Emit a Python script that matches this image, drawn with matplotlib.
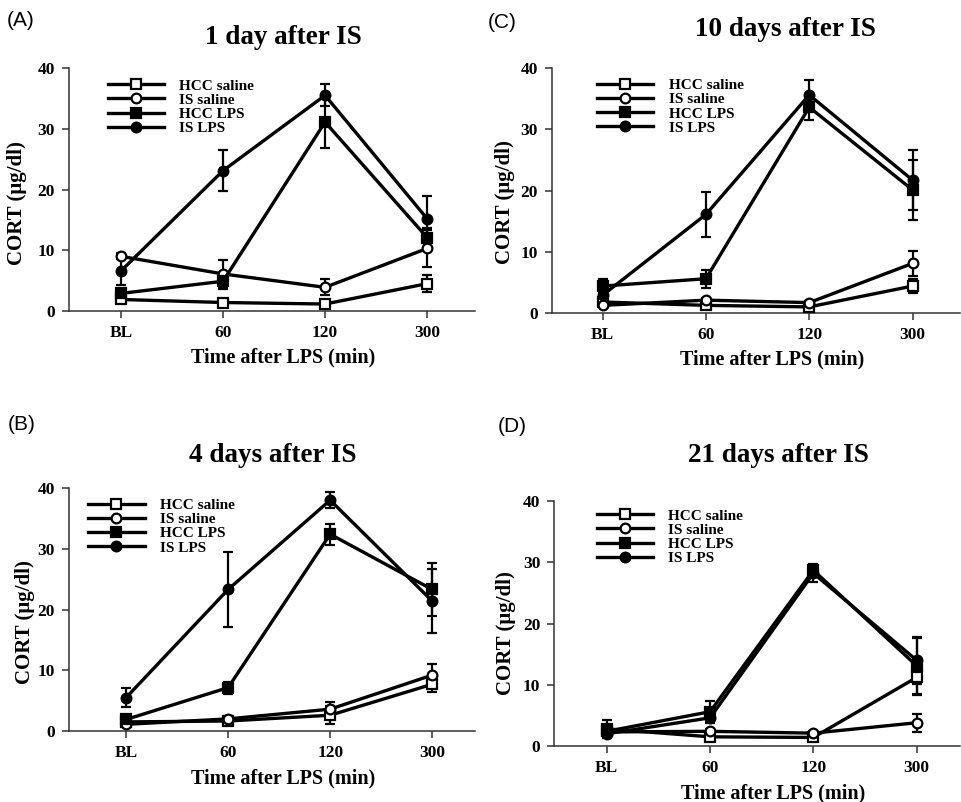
import matplotlib
matplotlib.use('Agg')
import matplotlib.pyplot as plt
import numpy as np

# Categorias do eixo x
time_labels = ['BL', '60', '120', '300']
group_names = ['HCC saline', 'IS saline', 'HCC LPS', 'IS LPS']

# CORT (ug/dl) por grupo, em cada painel
a_hcc_sal = [1.9, 1.4, 1.15, 4.5]
a_is_sal = [9.0, 6.1, 3.9, 10.3]
a_hcc_lps = [2.9, 4.9, 31.1, 12.1]
a_is_lps = [6.6, 23.1, 35.5, 15.2]
a_hcc_sal_err = [0.4, 0.3, 0.3, 1.4]
a_is_sal_err = [0.5, 2.3, 1.3, 3.0]
a_hcc_lps_err = [0.6, 1.3, 4.2, 1.5]
a_is_lps_err = [2.3, 3.4, 1.8, 3.8]

b_hcc_sal = [1.5, 1.65, 2.6, 7.7]
b_is_sal = [1.1, 2.0, 3.6, 9.2]
b_hcc_lps = [1.9, 7.15, 32.4, 23.3]
b_is_lps = [5.5, 23.3, 38.0, 21.4]
b_hcc_sal_err = [0.4, 0.3, 1.5, 1.2]
b_is_sal_err = [0.3, 0.4, 1.2, 1.9]
b_hcc_lps_err = [0.4, 1.0, 1.7, 4.3]
b_is_lps_err = [1.5, 6.2, 1.3, 5.2]

c_hcc_sal = [1.8, 1.25, 1.0, 4.4]
c_is_sal = [1.25, 2.1, 1.7, 8.1]
c_hcc_lps = [4.4, 5.6, 33.6, 20.1]
c_is_lps = [2.9, 16.1, 35.6, 21.7]
c_hcc_sal_err = [0.4, 0.3, 0.3, 1.2]
c_is_sal_err = [0.3, 0.4, 0.3, 2.0]
c_hcc_lps_err = [1.2, 1.5, 2.1, 4.9]
c_is_lps_err = [0.6, 3.7, 2.4, 4.9]

d_hcc_sal = [2.8, 1.5, 1.4, 11.2]
d_is_sal = [2.3, 2.4, 2.1, 3.8]
d_hcc_lps = [2.4, 5.6, 28.7, 13.1]
d_is_lps = [2.0, 4.6, 28.2, 14.0]
d_hcc_sal_err = [1.5, 0.4, 0.3, 2.9]
d_is_sal_err = [0.4, 0.4, 0.3, 1.5]
d_hcc_lps_err = [0.6, 1.7, 1.0, 4.6]
d_is_lps_err = [0.5, 0.8, 1.4, 3.8]

serif = 'Liberation Serif'
sans = 'Liberation Sans'

fig = plt.figure(figsize=(9.62, 8.02), dpi=100)

# posicao do eixo, xlim, legenda, titulo, rotulo do painel, coords dos rotulos dos eixos
panels = [
    dict(rect=[0.0717, 0.6122, 0.4221, 0.3030], xlim=(-0.51, 3.47), leg=(0.095, 0.955),
         title='1 day after IS', tpos=(283, 37), tag='(A)', tagpos=(21, 21),
         xl=(0.527, -0.150), yl=(-0.103, 0.444),
         data=(a_hcc_sal, a_is_sal, a_hcc_lps, a_is_lps),
         err=(a_hcc_sal_err, a_is_sal_err, a_hcc_lps_err, a_is_lps_err)),
    dict(rect=[0.5738, 0.6097, 0.4242, 0.3055], xlim=(-0.49, 3.46), leg=(0.11, 0.957),
         title='10 days after IS', tpos=(785, 29), tag='(C)', tagpos=(502, 22),
         xl=(0.54, -0.147), yl=(-0.091, 0.451),
         data=(c_hcc_sal, c_is_sal, c_hcc_lps, c_is_lps),
         err=(c_hcc_sal_err, c_is_sal_err, c_hcc_lps_err, c_is_lps_err)),
    dict(rect=[0.0717, 0.0885, 0.4221, 0.3030], xlim=(-0.56, 3.42), leg=(0.047, 0.957),
         title='4 days after IS', tpos=(273, 455), tag='(B)', tagpos=(22, 425),
         xl=(0.527, -0.156), yl=(-0.084, 0.45),
         data=(b_hcc_sal, b_is_sal, b_hcc_lps, b_is_lps),
         err=(b_hcc_sal_err, b_is_sal_err, b_hcc_lps_err, b_is_lps_err)),
    dict(rect=[0.5759, 0.0698, 0.4221, 0.3055], xlim=(-0.51, 3.42), leg=(0.105, 0.968),
         title='21 days after IS', tpos=(778, 455), tag='(D)', tagpos=(512, 426),
         xl=(0.539, -0.151), yl=(-0.094, 0.461),
         data=(d_hcc_sal, d_is_sal, d_hcc_lps, d_is_lps),
         err=(d_hcc_sal_err, d_is_sal_err, d_hcc_lps_err, d_is_lps_err)),
]

markers = ['s', 'o', 's', 'o']
faces = ['white', 'white', 'black', 'black']
x = np.arange(len(time_labels))

for p in panels:
    ax = fig.add_axes(p['rect'])
    handles = []
    for vals, errs, mk, fc, name in zip(p['data'], p['err'], markers, faces, group_names):
        ax.errorbar(x, vals, yerr=errs, fmt='none', ecolor='black', elinewidth=1.6,
                    capsize=3.5, capthick=1.6, zorder=2)
        h, = ax.plot(x, vals, color='black', lw=2.4, marker=mk, markersize=7,
                     markerfacecolor=fc, markeredgecolor='black', markeredgewidth=1.6,
                     label=name, zorder=3)
        handles.append(h)

    ax.set_xlim(*p['xlim'])
    ax.set_ylim(0, 40)
    ax.set_yticks([0, 10, 20, 30, 40])
    ax.set_xticks(x)
    ax.set_xticklabels(time_labels)
    for s in ['top', 'right']:
        ax.spines[s].set_visible(False)
    for s in ['left', 'bottom']:
        ax.spines[s].set_color('#333333')
        ax.spines[s].set_linewidth(1.1)
    ax.tick_params(axis='both', direction='out', length=5, width=1.1, color='#333333', pad=5)
    for lab in ax.get_xticklabels() + ax.get_yticklabels():
        lab.set_fontfamily(serif)
        lab.set_fontweight('bold')
        lab.set_fontsize(12.5)

    ax.set_xlabel('Time after LPS (min)', fontfamily=serif, fontweight='bold', fontsize=14.5)
    ax.xaxis.set_label_coords(*p['xl'])
    ax.set_ylabel('CORT (\u03bcg/dl)', fontfamily=serif, fontweight='bold', fontsize=15)
    ax.yaxis.set_label_coords(*p['yl'])

    ax.legend(handles=handles, loc='upper left', bbox_to_anchor=p['leg'], frameon=False,
              prop={'family': serif, 'weight': 'bold', 'size': 11}, handlelength=3.7,
              handletextpad=1.0, labelspacing=0.03, borderpad=0, borderaxespad=0,
              numpoints=1)

    fig.text(p['tpos'][0] / 962, 1 - p['tpos'][1] / 802, p['title'], ha='center', va='center',
             fontfamily=serif, fontweight='bold', fontsize=19.5)
    fig.text(p['tagpos'][0] / 962, 1 - p['tagpos'][1] / 802, p['tag'], ha='center', va='center',
             fontfamily=sans, fontsize=15)

fig.savefig('out.png', dpi=100)
